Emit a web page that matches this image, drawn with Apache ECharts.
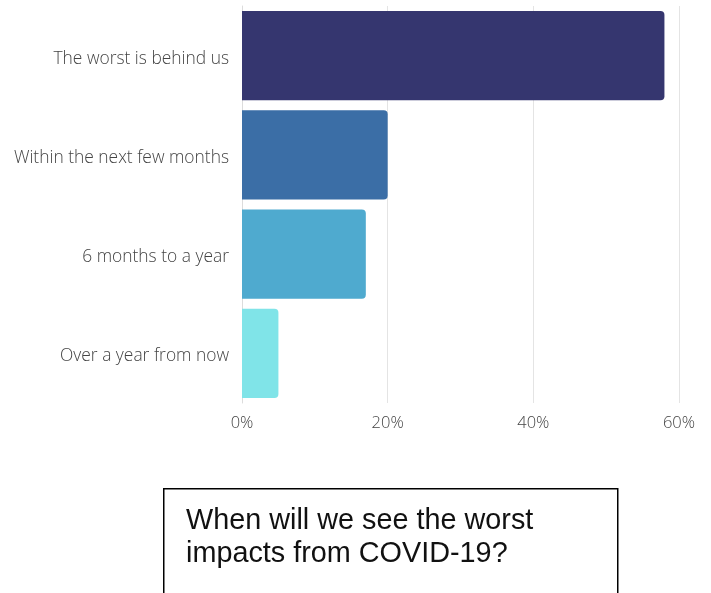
<!DOCTYPE html>
<html><head><meta charset="utf-8">
<script src="https://cdn.jsdelivr.net/npm/echarts@6/dist/echarts.min.js"></script>
<style>html,body{margin:0;padding:0;background:#fff}#c{width:711px;height:593px}</style>
</head><body><div id="c"></div>
<script>
const categories = ["The worst is behind us", "Within the next few months", "6 months to a year", "Over a year from now"];
const values = [58, 20, 17, 5];
const barColors = ["#35366f", "#3b6ea6", "#4faacf", "#80e4e8"];
const xTicks = [0, 20, 40, 60];
const caption = "When will we see the worst\nimpacts from COVID-19?";

const chart = echarts.init(document.getElementById('c'), null, {renderer: 'canvas'});
chart.setOption({
  animation: false,
  grid: {left: 242, right: 32, top: 6, bottom: 190, containLabel: false},
  xAxis: {
    type: 'value', min: xTicks[0], max: xTicks[xTicks.length - 1], interval: 20,
    axisLine: {show: false}, axisTick: {show: false},
    splitLine: {lineStyle: {color: '#e4e4e4', width: 1}},
    axisLabel: {formatter: '{value}%', color: '#444', fontFamily: 'Open Sans', fontWeight: 300, fontSize: 16.5, margin: 12}
  },
  yAxis: {
    type: 'category', data: categories, inverse: true,
    axisLine: {show: true, lineStyle: {color: '#dcdcdc', width: 1}},
    axisTick: {show: false},
    axisLabel: {
      margin: 13,
      formatter: v => '{a|' + v + '}',
      rich: {a: {color: '#444', fontFamily: 'Open Sans', fontWeight: 300, fontSize: 17.4, padding: [6, 0, 0, 0]}}
    }
  },
  series: [{
    type: 'bar', barCategoryGap: '10%',
    data: values.map((v, i) => ({value: v, itemStyle: {color: barColors[i]}})),
    itemStyle: {borderRadius: [0, 4, 4, 0]}
  }],
  graphic: [
    {type: 'rect', left: 163, top: 488, shape: {width: 454, height: 120},
     style: {fill: '#fff', stroke: '#000', lineWidth: 1.5}},
    {type: 'text', left: 186, top: 505,
     style: {text: caption, font: '28.8px "Liberation Sans", Arial, sans-serif', fill: '#111', lineHeight: 33}}
  ]
});
</script></body></html>
